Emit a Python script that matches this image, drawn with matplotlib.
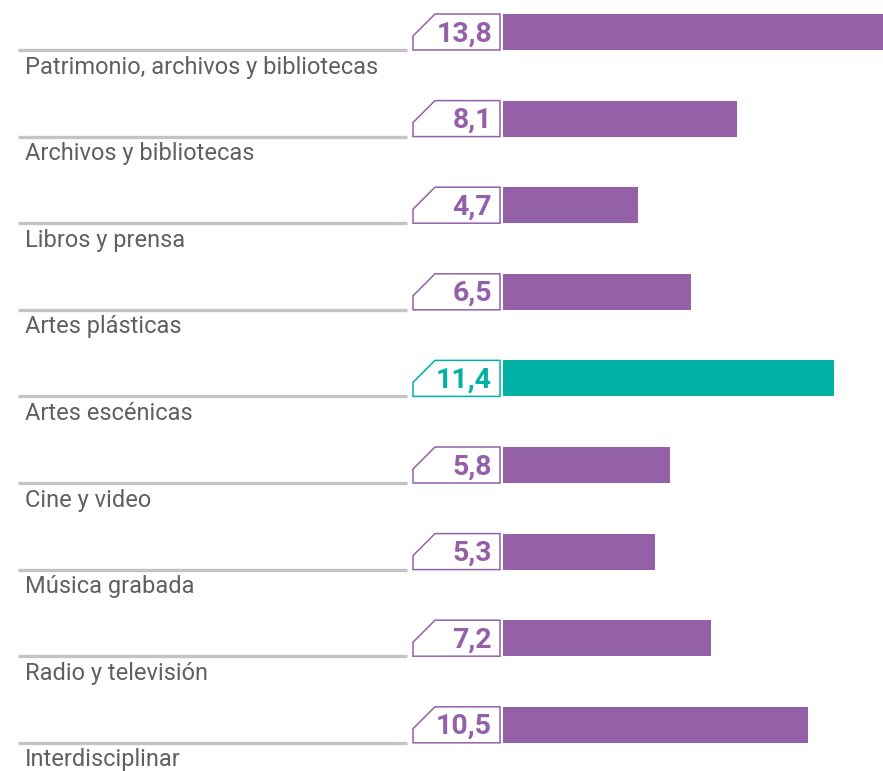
import matplotlib.pyplot as plt
from matplotlib.patches import Polygon

# Data
categories = ["Patrimonio, archivos y bibliotecas", "Archivos y bibliotecas",
              "Libros y prensa", "Artes plásticas", "Artes escénicas",
              "Cine y video", "Música grabada", "Radio y televisión",
              "Interdisciplinar"]
values = [13.8, 8.1, 4.7, 6.5, 11.4, 5.8, 5.3, 7.2, 10.5]
labels = ["13,8", "8,1", "4,7", "6,5", "11,4", "5,8", "5,3", "7,2", "10,5"]
highlight = "Artes escénicas"

purple = "#9461a9"
teal = "#00b1a4"
gray_line = "#c4c4c6"
text_gray = "#606062"

fig = plt.figure(figsize=(8.83, 7.71), dpi=100)
ax = fig.add_axes([0, 0, 1, 1])

# scale: ~29.3 px per unit, zero at x=501 px
px = 29.3
ax.set_xlim(-501 / px, (883 - 501) / px)
ax.set_ylim((771 - 32) / 86.6, -32 / 86.6)
ax.axis("off")

bh = 36 / 86.6
for i, (cat, v, lab) in enumerate(zip(categories, values, labels)):
    col = teal if cat == highlight else purple
    ax.barh(i, v - 0.1, height=bh, left=0.07, color=col, edgecolor="none")

    # label box with chamfered corner
    x0, x1 = (413 - 501) / px, (500 - 501) / px
    cx = 22 / px
    y_top, y_bot = i - bh / 2, i + bh / 2
    cy = 22 / 86.6
    box = Polygon([(x0, y_bot), (x0, y_top + cy), (x0 + cx, y_top),
                   (x1, y_top), (x1, y_bot)], closed=True,
                  facecolor="white", edgecolor=col, linewidth=1.1)
    ax.add_patch(box)
    ax.text((492 - 501) / px, i + 0.02, lab, ha="right", va="center",
            fontsize=20.5, fontweight="bold", color=col, family="Roboto")

    # gray rule and category label
    ax.plot([(18 - 501) / px, (407 - 501) / px], [y_bot, y_bot],
            color=gray_line, linewidth=2.4, solid_capstyle="butt")
    ax.text((25 - 501) / px, i + 35 / 86.6, cat, ha="left", va="center",
            fontsize=17, color=text_gray, family="Roboto")

fig.savefig("out.png", dpi=100)
